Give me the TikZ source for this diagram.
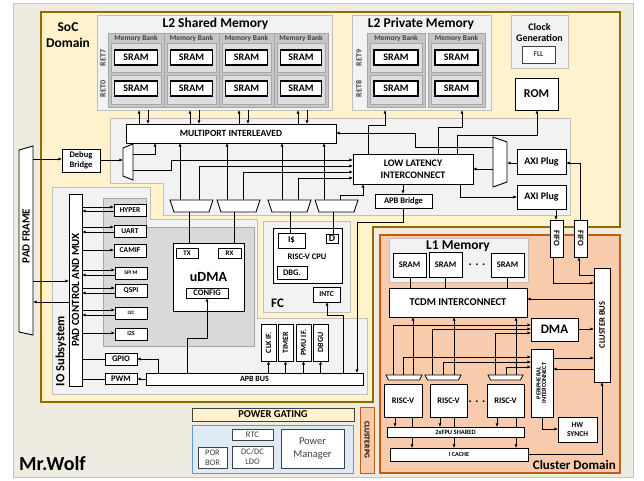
\documentclass[tikz,border=0pt]{standalone}
\usepackage{fontspec}
\setmainfont{Carlito}
\usetikzlibrary{arrows.meta}
\definecolor{bgc}{HTML}{EEECE1}
\definecolor{bgb}{HTML}{C4C4C4}
\definecolor{socf}{HTML}{FFF2CC}
\definecolor{socb}{HTML}{8C6D00}
\definecolor{grf}{HTML}{F2F2F2}
\definecolor{grb}{HTML}{BFBFBF}
\definecolor{dgf}{HTML}{D9D9D9}
\definecolor{dgb}{HTML}{A6A6A6}
\definecolor{bankf}{HTML}{C6C6C6}
\definecolor{cellf}{HTML}{DEDEDE}
\definecolor{clf}{HTML}{F8CBAD}
\definecolor{clb}{HTML}{C55A11}
\definecolor{pwf}{HTML}{DEEBF7}
\definecolor{pwb}{HTML}{5B9BD5}
\definecolor{txg}{HTML}{404040}
\newcommand\myfs[2]{\fontsize{#1}{#2}\selectfont}
\newcommand\mybox[7][]{\node[wb,#1,minimum width={(#5)-(#3)},minimum height={(#6)-(#4)}] (#2) at ({((#3)+(#5))/2},{((#4)+(#6))/2}) {#7};}
\newcommand\myrot[2]{\rotatebox[origin=c]{#1}{#2}}
\begin{document}
\begin{tikzpicture}[x=1pt,y=-1pt,
  wb/.style={draw=black,fill=white,line width=0.9pt,inner sep=0pt,outer sep=0pt,align=center,font=\bfseries\myfs{8}{9}},
  regbox/.style={draw=grb,fill=grf,line width=0.7pt},
  arr/.style={line width=0.85pt,-{Latex[length=3.6pt,width=3.2pt]}},
  wire/.style={line width=0.85pt},
  muxst/.style={draw=black,fill=white,line width=0.9pt,line join=miter},
  pwbox/.style={draw=txg,line width=0.8pt,text=txg,font=\myfs{8.5}{10}},
  reg/.style={line width=0.7pt}]
\useasboundingbox (0,0) rectangle (644,480);
% ---------- regions
\draw[reg,fill=bgc,draw=bgb] (13,3) rectangle (633,477);
\draw[fill=socf,draw=socb,line width=1.2pt] (41,12) -- (620,12) -- (620,227) -- (373,227) -- (373,402) -- (41,402) -- cycle;
\draw[fill=clf,draw=clb,line width=1.2pt] (380,235) rectangle (620,473);
\draw[reg,fill=grf,draw=grb] (110,118) -- (570,118) -- (570,215) -- (163,215) -- (163,183) -- (110,183) -- cycle;
\draw[reg,fill=grf,draw=grb] (52,187) -- (150,187) -- (150,219) -- (257,219) -- (257,318) -- (367,318) -- (367,394) -- (52,394) -- cycle;
\draw[reg,fill=dgf,draw=dgb] (103,198) -- (146,198) -- (146,227) -- (254,227) -- (254,346) -- (103,346) -- cycle;
\mybox[regbox]{fc}{263}{221}{350}{312}{}
\mybox[regbox]{l2s}{97}{15}{332}{110}{}
\mybox[regbox]{l2p}{352}{15}{491}{110}{}
\mybox[regbox]{clk}{511}{15}{568}{68}{}
\mybox[regbox]{l1}{389}{238}{528}{282}{}
% ---------- titles
\node[font=\bfseries\myfs{13.5}{16},inner sep=0pt] (t2s) at (215.5,24) {L2 Shared Memory};
\node[font=\bfseries\myfs{13.5}{16},inner sep=0pt] (t2p) at (421,24) {L2 Private Memory};
\node[font=\bfseries\myfs{13.5}{16},inner sep=0pt,align=center] (tsoc) at (68,35) {SoC\\Domain};
\node[font=\bfseries\myfs{10}{11},inner sep=0pt,align=center] (tclk) at (539.5,32.5) {Clock\\Generation};
\node[font=\bfseries\myfs{13.5}{16},inner sep=0pt] (tl1) at (458,246) {L1 Memory};
\node[font=\bfseries\myfs{13}{15},inner sep=0pt,anchor=base east] (tcl) at (616,469) {Cluster Domain};
\node[font=\bfseries\myfs{20}{22},inner sep=0pt,anchor=base west] (twolf) at (19,470) {Mr.Wolf};
\node[font=\bfseries\myfs{13}{15},inner sep=0pt,anchor=base west] (tfc) at (271,307) {FC};
\node[font=\bfseries\myfs{12.5}{14},inner sep=0pt,rotate=90] (tio) at (61,351) {IO Subsystem};
% ---------- L2 banks
\foreach \a/\b [count=\i] in {108/164,164/219,219/274,274/328}{
  \draw[fill=bankf,draw=dgb,line width=0.6pt] (\a,33) rectangle (\b,107);
  \node[font=\bfseries\myfs{7.4}{8},text=txg,inner sep=0pt] at ({(\a+\b)/2},38.5) {Memory Bank};
  \draw[fill=cellf,draw=dgb,line width=0.6pt] ({\a+3},43) rectangle ({\b-3},72);
  \draw[fill=cellf,draw=dgb,line width=0.6pt] ({\a+3},75) rectangle ({\b-3},104);
  \mybox[line width=1.1pt,font=\bfseries\myfs{10}{11}]{sa\i}{\a+6.5}{50}{\b-6.5}{65}{SRAM}
  \mybox[line width=1.1pt,font=\bfseries\myfs{10}{11}]{sb\i}{\a+6.5}{81}{\b-6.5}{96}{SRAM}
}
\foreach \a/\b [count=\i] in {367/425,428/485}{
  \draw[fill=bankf,draw=dgb,line width=0.6pt] (\a,33) rectangle (\b,107);
  \node[font=\bfseries\myfs{7.4}{8},text=txg,inner sep=0pt] at ({(\a+\b)/2},38.5) {Memory Bank};
  \draw[fill=cellf,draw=dgb,line width=0.6pt] ({\a+3},43) rectangle ({\b-3},72);
  \draw[fill=cellf,draw=dgb,line width=0.6pt] ({\a+3},75) rectangle ({\b-3},104);
  \mybox[line width=1.1pt,font=\bfseries\myfs{10}{11}]{pa\i}{\a+7}{50}{\b-7}{65}{SRAM}
  \mybox[line width=1.1pt,font=\bfseries\myfs{10}{11}]{pb\i}{\a+7}{81}{\b-7}{96}{SRAM}
}
\foreach \x/\y/\t in {103/58/RET7,103/89/RET0,359/58/RET9,359/89/RET8}
  \node[rotate=90,font=\bfseries\myfs{8}{9},text=txg,inner sep=0pt] at (\x,\y) {\t};
\mybox[draw=txg,line width=0.7pt,text=txg,font=\bfseries\myfs{7.5}{8}]{fll}{522}{46}{555}{63}{FLL}
\mybox[font=\bfseries\myfs{12}{13}]{rom}{515}{78}{558}{110}{ROM}
% ---------- interconnect boxes
\mybox[font=\bfseries\myfs{9.5}{10}]{mp}{126}{124}{336}{143}{MULTIPORT INTERLEAVED}
\mybox[font=\bfseries\myfs{10}{12}]{ll}{353}{154}{473}{184}{LOW LATENCY\\INTERCONNECT}
\mybox[font=\bfseries\myfs{8.5}{9}]{apbbr}{375}{194}{432}{208}{APB Bridge}
\mybox[font=\bfseries\myfs{10}{11}]{axi1}{517}{149}{566}{174}{AXI Plug}
\mybox[font=\bfseries\myfs{10}{11}]{axi2}{517}{185}{566}{209}{AXI Plug}
\mybox[font=\bfseries\myfs{8.5}{10}]{dbg}{62}{149}{100}{172}{Debug\\Bridge}
\draw[muxst] (123,148) -- (133,144) -- (133,180) -- (123,176) -- cycle;
\draw[muxst] (493,137) -- (507,142) -- (507,182) -- (493,187) -- cycle;
\foreach \x in {170,217,268,315}
  \draw[muxst] (\x,200) -- ({\x+43},200) -- ({\x+39},212) -- ({\x+4},212) -- cycle;
\coordinate (m1a) at (180,200); \coordinate (m1b) at (199,200); \coordinate (m1o) at (189,212);
\coordinate (m2a) at (227,200); \coordinate (m2b) at (243,200); \coordinate (m2o) at (234,212);
\coordinate (m3a) at (282,200); \coordinate (m3b) at (298,200); \coordinate (m3o) at (290,212);
\coordinate (m4a) at (324,200); \coordinate (m4b) at (340,200); \coordinate (m4o) at (333,212);
% ---------- pad frame / IO
\draw[fill=white,draw=black,line width=0.9pt] (19,150) -- (33,146) -- (33,335) -- (19,332) -- cycle;
\node[rotate=90,font=\bfseries\myfs{11}{12},inner sep=0pt] (pf) at (26,236) {PAD FRAME};
\coordinate (pf1) at (33,159);
\mybox[font=\bfseries\myfs{11}{12}]{pcm}{69}{194}{82}{386}{\myrot{90}{PAD CONTROL AND MUX}}
\mybox[font=\bfseries\myfs{7.5}{8}]{hyper}{114}{204}{146}{216}{HYPER}
\mybox[font=\bfseries\myfs{7.5}{8}]{uart}{114}{225}{146}{237}{UART}
\mybox[font=\bfseries\myfs{7.5}{8}]{camif}{114}{244}{146}{257}{CAMIF}
\mybox[font=\bfseries\myfs{5.5}{6}]{spim}{115}{267}{147}{279}{SPI M}
\mybox[font=\bfseries\myfs{7.5}{8}]{qspi}{115}{284}{147}{297}{QSPI}
\mybox[font=\bfseries\myfs{5}{6}]{itc}{115}{307}{147}{319}{I2C}
\mybox[font=\bfseries\myfs{6}{6}]{its}{115}{328}{147}{340}{I2S}
\mybox[font=\bfseries\myfs{8.5}{9}]{gpio}{105}{353}{137}{365}{GPIO}
\mybox[font=\bfseries\myfs{8.5}{9}]{pwm}{105}{373}{137}{384}{PWM}
\mybox[font=\bfseries\myfs{8}{9}]{apb}{146}{373}{363}{385}{APB BUS}
\mybox[font=\bfseries\myfs{14}{15}]{udma}{173}{243}{244}{311}{uDMA}
\mybox[font=\bfseries\myfs{7}{8}]{tx}{176}{248}{198}{258}{TX}
\mybox[font=\bfseries\myfs{7}{8}]{rx}{218}{248}{241}{258}{RX}
\mybox[font=\bfseries\myfs{8.5}{9}]{config}{186}{288}{228}{298}{CONFIG}
\mybox{cpu}{273}{228}{342}{283}{}
\node[font=\bfseries\myfs{8.5}{9},inner sep=0pt] (cput) at (307,257) {RISC-V CPU};
\mybox[font=\bfseries\myfs{9}{10}]{ic}{278}{233}{305}{248}{I\$}
\mybox[font=\bfseries\myfs{10}{11}]{dbox}{326}{234}{338}{243}{D}
\mybox[font=\bfseries\myfs{8.5}{9}]{dbgc}{277}{266}{307}{279}{DBG.}
\mybox[font=\bfseries\myfs{7.5}{8}]{intc}{313}{287}{340}{302}{INTC}
\mybox[font=\bfseries\myfs{8}{9}]{clkif}{261}{324}{276}{361}{\myrot{90}{CLK IF.}}
\mybox[font=\bfseries\myfs{8}{9}]{timer}{278}{324}{293}{361}{\myrot{90}{TIMER}}
\mybox[font=\bfseries\myfs{8}{9}]{pmuif}{296}{324}{311}{361}{\myrot{90}{PMU IF.}}
\mybox[font=\bfseries\myfs{8}{9}]{dbgu}{313}{324}{328}{361}{\myrot{90}{DBGU}}
% ---------- power
\mybox[draw=txg,fill=socf,line width=0.8pt,font=\bfseries\myfs{10.5}{11}]{pg}{192}{408}{354}{421}{POWER GATING}
\draw[fill=pwf,draw=pwb,line width=1pt] (192,425) rectangle (353,473);
\mybox[pwbox]{rtc}{232}{429}{273}{440}{RTC}
\mybox[pwbox]{dcdc}{232}{446}{273}{468}{DC/DC\\LDO}
\mybox[pwbox]{por}{198}{447}{227}{468}{POR\\BOR}
\mybox[pwbox,font=\myfs{10.5}{13}]{pm}{281}{429}{344}{468}{Power\\Manager}
\mybox[fill=clf,draw=clb,line width=1pt,font=\bfseries\myfs{7.5}{8}]{cpg}{360}{407}{374}{473}{\myrot{-90}{CLUSTER PG}}
% ---------- cluster
\mybox[line width=0.8pt,font=\bfseries\myfs{8.5}{9}]{ls1}{393}{253}{426}{277}{SRAM}
\mybox[line width=0.8pt,font=\bfseries\myfs{8.5}{9}]{ls2}{429}{252}{462}{277}{SRAM}
\mybox[line width=0.8pt,font=\bfseries\myfs{8.5}{9}]{ls3}{491}{253}{524}{277}{SRAM}
\node[font=\bfseries\myfs{12}{12},inner sep=0pt] (ldots) at (477,265) {. . .};
\mybox[font=\bfseries\myfs{10.5}{11}]{tcdm}{389}{288}{527}{317}{TCDM INTERCONNECT}
\mybox[font=\bfseries\myfs{13}{14}]{dma}{531}{318}{578}{341}{DMA}
\mybox[font=\bfseries\myfs{6.3}{7}]{per}{531}{349}{553}{417}{\myrot{90}{\begin{tabular}{@{}c@{}}PERIPHERAL\\[-1.5pt]INTERCONNECT\end{tabular}}}
\mybox[font=\bfseries\myfs{7.5}{9.5}]{hw}{558}{417}{597}{442}{HW\\SYNCH}
\mybox[font=\bfseries\myfs{8.5}{9}]{cbus}{594}{268}{610}{382}{\myrot{90}{CLUSTER BUS}}
\mybox[font=\bfseries\myfs{8.5}{9}]{fifo1}{550}{220}{563}{257}{\myrot{-90}{FIFO}}
\mybox[font=\bfseries\myfs{8.5}{9}]{fifo2}{574}{220}{587}{257}{\myrot{-90}{FIFO}}
\mybox[font=\bfseries\myfs{8.5}{9}]{rv1}{384}{384}{422}{417}{RISC-V}
\mybox[font=\bfseries\myfs{8.5}{9}]{rv2}{430}{384}{467}{417}{RISC-V}
\mybox[font=\bfseries\myfs{8.5}{9}]{rv3}{487}{384}{524}{417}{RISC-V}
\node[font=\bfseries\myfs{12}{12},inner sep=0pt] (rdots) at (477,402) {. . .};
\mybox[font=\bfseries\myfs{6.2}{7}]{icache}{390}{448}{528}{461}{I CACHE}
\foreach \a/\b in {386/422,425/461,488/523}
  \draw[muxst,line width=0.8pt] (\a,375) -- (\b,375) -- ({\b-2.5},380) -- ({\a+2.5},380) -- cycle;
% ---------- wires: L2 / interconnect
\foreach \u/\d in {139/148,190/199,239/248,298/307}{
  \draw[arr] (mp.north -| \u,0) -- (l2s.south -| \u,0);
  \draw[arr] (l2s.south -| \d,0) -- (mp.north -| \d,0);
}
\draw[arr] (pf1) -- (dbg.west |- pf1);
\draw[arr] (dbg.east |- 0,160) -- (123,160);
\draw[arr] (133,154) -| (mp.south -| 155,0);
\draw[arr] (133,170) -| (171,160) -- (ll.west |- 0,160);
\draw[arr] (m1a) -- (m1a |- mp.south);
\draw[arr] (m1b) |- (ll.west |- 0,166);
\draw[arr] (m2a) -- (m2a |- mp.south);
\draw[arr] (m2b) |- (ll.west |- 0,172);
\draw[arr] (m3a) -- (m3a |- mp.south);
\draw[arr] (m3b) |- (ll.west |- 0,178);
\draw[arr] (m4a) -- (m4a |- mp.south);
\draw[arr] (m4b) |- (363,195) -- (ll.south -| 363,0);
\draw[wire] (m1o) -- (m1o |- udma.north);
\draw[wire] (m2o) -- (m2o |- udma.north);
\draw[wire] (m3o) -- (m3o |- ic.north);
\draw[wire] (m4o) -- (m4o |- dbox.north);
\draw[arr] (ll.north -| 368,0) |- (385,125) -- (l2p.south -| 385,0);
\draw[arr] (ll.north -| 438,0) |- (462,127) -- (l2p.south -| 462,0);
\draw[arr] (ll.north -| 457,0) |- (537,135) -- (rom.south -| 537,0);
\draw[arr] (493,147) -| (415,133) -- (mp.east |- 0,133);
\draw[arr] (axi1.west |- 0,163) -- (507,163);
\draw[arr] (493,169) -- (ll.east |- 0,169);
\draw[arr] (ll.south -| 403,0) -- (apbbr.north -| 403,0);
\draw[arr] (ll.south -| 460,0) |- (axi2.west |- 0,197);
\draw[arr] (axi2.south -| 556,0) -- (fifo1.north -| 556,0);
\draw[arr] (fifo2.north -| 580,0) |- (axi1.east |- 0,163);
\draw[arr] (fifo1.south -| 553,0) |- (cbus.west |- 0,283);
\draw[arr] (cbus.west |- 0,275) -| (fifo2.south -| 579,0);
% ---------- wires: IO
\draw[arr] (33,281) -- (pcm.west |- 0,281);
\draw[arr] (pcm.west |- 0,302) -- (33,302);
\foreach \n/\y in {hyper/207,uart/227,camif/250,spim/270,qspi/288,itc/310,its/333}
  \draw[arr] (pcm.east |- 0,\y) -- (\n.west |- 0,\y);
\foreach \n/\y in {hyper/211,uart/232,spim/275,qspi/293,itc/315}
  \draw[arr] (\n.west |- 0,\y) -- (pcm.east |- 0,\y);
\draw[wire] (pcm.east |- 0,359) -- (gpio.west |- 0,359);
\draw[wire] (pcm.east |- 0,379) -- (pwm.west |- 0,379);
\draw[arr] (apb.north -| 158,0) |- (gpio.east |- 0,359);
\draw[arr] (apb.west |- 0,379) -- (pwm.east |- 0,379);
\draw[arr] (apb.north -| 187,0) |- (207,338) -- (config.south -| 207,0);
\foreach \n in {clkif,timer,pmuif,dbgu}
  \draw[arr] (apb.north -| \n.south) -- (\n.south);
\draw[arr] (apb.north -| 343,0) |- (327,315) -- (intc.south -| 327,0);
\draw[arr] (apbbr.south -| 403,0) |- (357,222) -- (apb.north -| 357,0);
% ---------- wires: cluster
\foreach \x in {410,445,507}
  \draw[wire] (\x,277) -- (tcdm.north -| \x,0);
\draw[arr] (cbus.west |- 0,299) -- (tcdm.east |- 0,299);
\foreach \x in {413,454,516}
  \draw[arr] (\x,375) -- (tcdm.south -| \x,0);
\foreach \x/\y in {393/325,432/329,495/333}
  \draw[arr] (\x,375) |- (dma.west |- 0,\y);
\foreach \x/\y in {403/357,443/362,506/367}
  \draw[arr] (\x,375) |- (per.west |- 0,\y);
\draw[arr] (dma.east |- 0,329) -- (cbus.west |- 0,329);
\draw[arr] (per.east |- 0,358) -- (cbus.west |- 0,358);
\draw[arr] (cbus.west |- 0,369) -- (per.east |- 0,369);
\draw[arr] (per.south -| 542,0) |- (hw.west |- 0,429);
\foreach \x in {395,440,497}
  \draw[arr] (\x,417) -- (\x,427);
\foreach \x in {412,454,516}
  \draw[arr] (\x,417) -- (icache.north -| \x,0);
\mybox[font=\bfseries\myfs{6.5}{7}]{fpu}{387}{427}{524}{437}{2xFPU SHARED}
\draw[arr] (icache.east |- 0,454) -| (cbus.south -| 602,0);
\end{tikzpicture}
\end{document}
